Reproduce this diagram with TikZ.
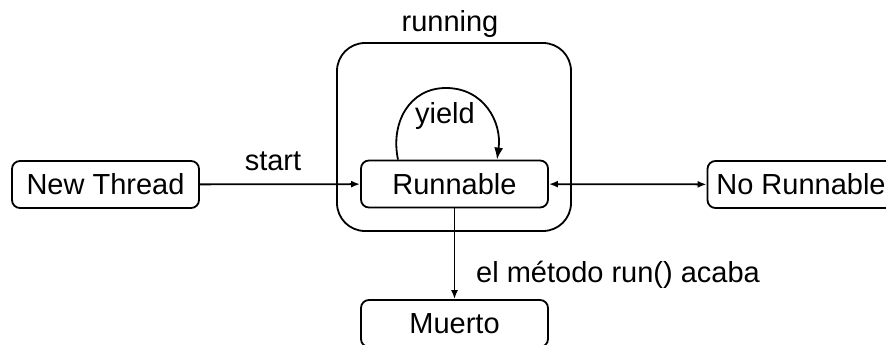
\documentclass[tikz,border=0pt]{standalone}
\usepackage{fontspec}
\setmainfont{Liberation Sans}
\usetikzlibrary{arrows.meta}
\begin{document}
\begin{tikzpicture}[x=1pt,y=-1pt,
  every node/.style={font=\fontsize{29}{34}\selectfont},
  state/.style={draw,line width=1.8pt,rounded corners=8pt,minimum width=187pt,minimum height=47pt,inner sep=0pt},
  conn/.style={line width=1.8pt,-{Latex[length=9pt,width=7pt]}},
  lbl/.style={anchor=base,inner sep=0pt}]
\useasboundingbox (0,0) rectangle (886,345);
\clip (0,0) rectangle (886,345);
\draw[line width=1.8pt,rounded corners=28pt] (337,43) rectangle (571,231);
\node[lbl] (runlbl) at (450,32) {running};
\node[state] (nt) at (105.5,184.5) {New Thread};
\node[state] (r) at (454.5,184) {Runnable};
\node[state] (nr) at (801,184.5) {No Runnable};
\node[state] (m) at (454.5,323.5) {Muerto};
\coordinate (ys) at ([xshift=-56.5pt]r.north);
\coordinate (ye) at ([xshift=42.5pt]r.north);
\coordinate (ytop) at (446,88);
\draw[line width=1.8pt,-{Latex[length=12pt,width=9pt]}] (ys) to[out=102,in=180,looseness=1.1] (ytop) to[out=0,in=82,looseness=1.1] (ye);
\node[lbl] (yl) at (445,123) {yield};
\draw[conn] (nt) -- (r);
\node[lbl] (st) at (273,170) {start};
\draw[line width=1.8pt,{Latex[length=9pt,width=7pt]}-{Latex[length=9pt,width=7pt]}] (r) -- (nr);
\draw[conn] (r) -- (m);
\node[lbl,anchor=base west] (fin) at (476,282) {el método run() acaba};
\end{tikzpicture}
\end{document}
